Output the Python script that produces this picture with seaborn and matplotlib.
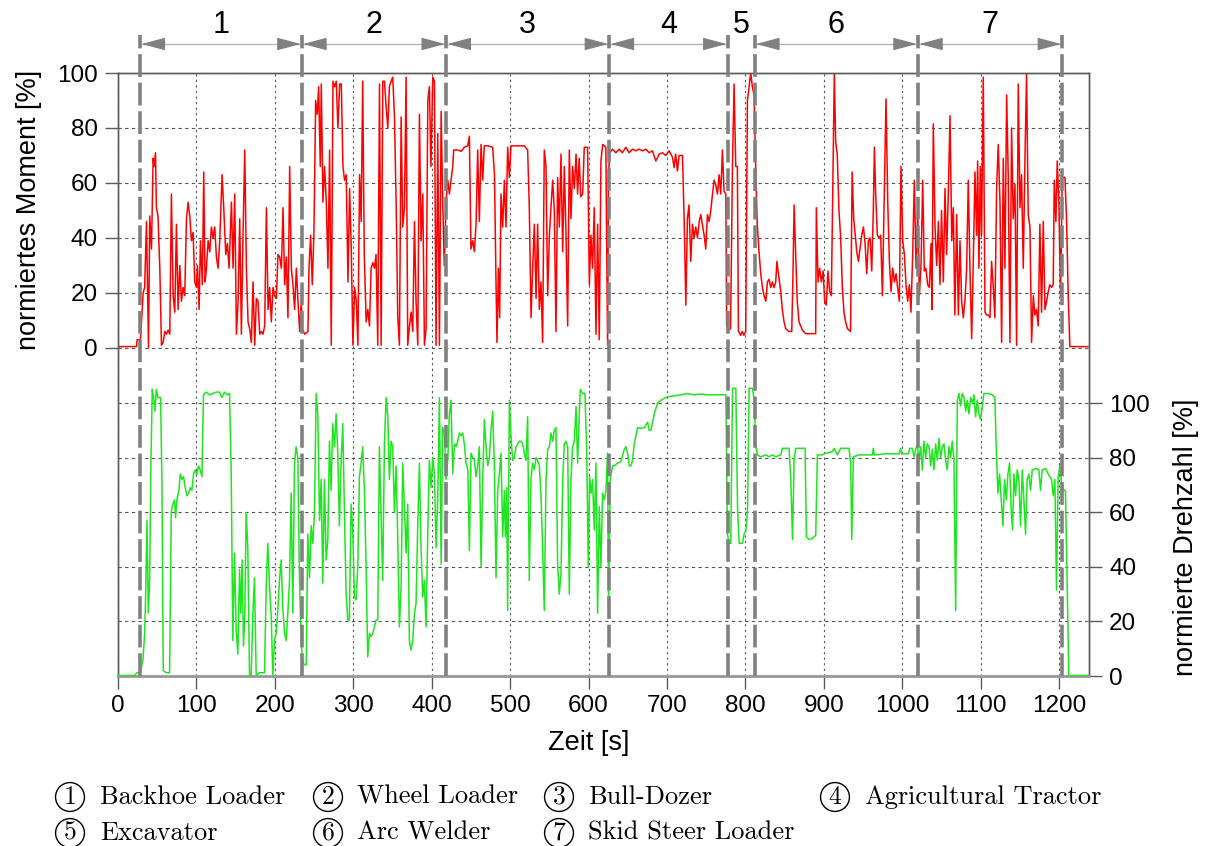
import matplotlib
matplotlib.use("Agg")
import matplotlib.pyplot as plt
import seaborn as sns
from matplotlib.transforms import blended_transform_factory

# ---------------- data ----------------
phase_bounds = [28.5, 234.5, 418.5, 626.5, 777.5, 812, 1020, 1204]
phase_labels = ["1", "2", "3", "4", "5", "6", "7"]
legend_names = ["Backhoe Loader", "Wheel Loader", "Bull-Dozer", "Agricultural Tractor",
                "Excavator", "Arc Welder", "Skid Steer Loader"]
x_ticks = [0, 100, 200, 300, 400, 500, 600, 700, 800, 900, 1000, 1100, 1200]
y_ticks = [0, 20, 40, 60, 80, 100]

torque_t = [
    0, 23.6, 24.4, 28.7, 32, 34, 36.3, 38.9, 40.5, 42.7,
    44.8, 46, 47.8, 49, 51, 53.3, 55.4, 57.5, 59.7, 61.8,
    63.9, 66, 68.1, 70.3, 72.4, 74.5, 76.6, 78.8, 80.9, 83,
    85.1, 87.3, 89.4, 91.5, 93.6, 95.7, 97.9, 100, 101.3, 103.4,
    105.1, 107.6, 109.3, 111, 112.7, 114.9, 117, 119.1, 121.2, 123.3,
    125.5, 127.6, 129.7, 132.7, 134.8, 137.4, 139.5, 141.6, 144.6, 146.7,
    148.8, 151, 153.1, 155.2, 157.3, 159.4, 161.6, 163.7, 165.8, 167.9,
    170, 172.2, 174.3, 176.4, 178.5, 180.7, 182.8, 184.9, 187, 189.2,
    191.3, 193.4, 195.5, 197.6, 199.8, 201.9, 204, 206.1, 208.3, 210.4,
    212.5, 214.6, 216.7, 218.9, 221, 223.1, 225.2, 227.4, 229.5, 231.6,
    233.7, 235, 238, 242.2, 243.5, 245.6, 247.7, 249.8, 252, 254.1,
    255.8, 257.9, 259.2, 261.3, 263.4, 265.6, 267.7, 269.8, 271.9, 274.1,
    276.2, 278.3, 280.4, 282.6, 284.7, 286.8, 288.9, 291, 293.2, 295.3,
    297.4, 299.5, 301.7, 303.8, 305.9, 308, 310, 312, 314, 316.4,
    318.5, 320.6, 322.7, 324.9, 327, 329, 331.2, 333.4, 335.5, 337.6,
    339.7, 341.8, 344, 346, 348.2, 350.3, 352.5, 354.6, 356.7, 358.8,
    361, 363, 365.2, 367.3, 369.4, 371.6, 373.7, 375.8, 378, 380,
    382.2, 384.3, 386.4, 388.6, 390.7, 392.8, 395, 397, 399, 401.3,
    403.4, 405.5, 407.7, 409.8, 412, 414, 416, 418.3, 420.4, 422.5,
    424.6, 426.8, 428, 433, 437.4, 441.6, 445.9, 448, 450, 452.3,
    454.4, 456.5, 458.6, 460.7, 462.9, 465, 467, 471.4, 477.7, 480,
    482, 483.2, 485, 486.6, 488.3, 490.5, 492.6, 494.7, 496.8, 499,
    501, 509.6, 518, 522.3, 524.4, 526.6, 528.7, 530.8, 533, 535,
    537.2, 539.3, 541.4, 543.5, 545.7, 547.8, 550, 552, 554.2, 556.3,
    558.4, 560.5, 562.7, 564.8, 567, 569, 571, 573.3, 575.4, 577.5,
    579.6, 581.8, 584, 586, 588, 590, 592.4, 594.5, 598.7, 601,
    603, 605, 607.2, 609.4, 611.5, 613.6, 615.7, 618, 622, 624.2,
    625.4, 627, 630.5, 634.7, 639, 643, 647.5, 651.7, 656, 660,
    664.5, 668.7, 673, 677.2, 681.4, 685.7, 690, 694.2, 698.4, 702.7,
    707, 709, 711, 713.3, 715.4, 719.7, 721.8, 724, 726, 728,
    730.3, 732.4, 734.5, 736.6, 738.8, 741, 743, 745, 747.3, 749.4,
    751.5, 753.6, 755.8, 758, 760, 762, 764.3, 766.4, 768.5, 770.6,
    772.7, 775, 776, 778, 781, 783.4, 785.5, 787.6, 789.7, 791,
    794, 796, 798, 800.3, 802.5, 804.6, 806.7, 808.8, 811, 813,
    815, 817.3, 819.5, 821.6, 823.7, 826, 828, 830, 832.2, 834.3,
    836.4, 838.6, 840, 842, 845, 847, 849.2, 851.3, 855.5, 859,
    860.6, 862, 864, 866, 868.3, 872.5, 876.8, 889.5, 890.4, 892.5,
    894.6, 896.7, 899, 901, 903, 905.2, 907.4, 909.5, 911.6, 913.3,
    915, 917, 919.2, 921.4, 923.5, 925.6, 927.7, 930, 934, 936,
    938, 939.7, 941.9, 944, 946, 948.2, 950.4, 952.5, 954.6, 956.7,
    958.9, 961, 963, 964.4, 966, 968.2, 970.3, 972.4, 974.6, 976.7,
    979.2, 981.4, 983.5, 985.6, 987.7, 990, 992, 994, 996.2, 998.3,
    1000.5, 1002.6, 1004.7, 1006.8, 1009, 1011, 1013.2, 1015.3, 1017.5, 1019.6,
    1021.7, 1023.8, 1026, 1028, 1030, 1032.3, 1034.4, 1036.6, 1037.8, 1039.5,
    1041.7, 1043.8, 1046, 1048, 1050, 1052.3, 1054.4, 1056.5, 1058.6, 1060.8,
    1063, 1065, 1067, 1069.3, 1071.4, 1073.5, 1075.6, 1077.8, 1080, 1082,
    1084.1, 1086.2, 1088.4, 1090.5, 1092.6, 1094.7, 1096, 1097.7, 1099.4, 1101,
    1103.2, 1105.4, 1107.5, 1109.6, 1111.7, 1113.8, 1116, 1118, 1120.2, 1122.3,
    1124.5, 1126.6, 1128.7, 1130.8, 1133, 1135, 1137.2, 1139.3, 1141.4, 1143.6,
    1145.7, 1147.8, 1150, 1152, 1154.2, 1156.3, 1158.4, 1160.5, 1162.7, 1164.8,
    1167, 1169, 1171, 1173.3, 1175.4, 1177.5, 1179.7, 1181.8, 1184, 1186,
    1188, 1190.3, 1192.4, 1193.7, 1195.8, 1197.5, 1199.6, 1201.7, 1203.9, 1207.3,
    1209.4, 1211.5, 1213.6, 1237,
]
torque_v = [
    0.5, 0.5, 3, 3, 20, 22, 46, 0, 48, 36,
    69, 66, 71, 51, 48, 29, 1, 2, 6, 5,
    6.5, 5, 56, 19, 13, 45, 14, 30, 17, 22,
    19, 47, 53, 48, 39, 42, 24, 22, 30, 14,
    39, 23, 64, 24, 29, 39, 35, 44, 40, 44,
    33, 29, 39, 63, 51, 34, 38, 29, 53, 29,
    56, 5, 17, 47, 5, 41, 72, 29, 9.5, 7,
    2, 24, 1, 18, 17, 5, 6, 5, 8, 51,
    14, 22, 9.5, 22, 19, 18, 34, 33, 29, 51,
    23, 33, 11, 66, 29, 23, 14, 29, 17, 6,
    17, 7, 5, 6, 29, 41, 23, 42, 90, 85,
    95, 66, 96, 53, 66, 53, 29, 72, 1, 97,
    95, 97, 80, 96, 96, 66, 61, 63, 24, 58,
    36, 1, 22, 17, 1, 63, 46, 97, 34, 9.5,
    14, 8, 29, 31, 29, 34, 1, 96, 1, 97,
    97, 88, 80, 95, 97, 98.5, 84, 53, 11, 1,
    84, 44, 51, 98.5, 1, 8, 13, 6, 46, 17,
    1, 85, 39, 56, 1, 7, 90, 95, 66, 98.5,
    97, 1, 78, 1, 86, 53, 30, 53, 61, 56,
    61, 66, 72, 72, 71.5, 73, 73.5, 77, 36, 39,
    35, 45, 72, 46, 74, 61, 73.5, 73.5, 73, 63,
    23, 2, 29, 11, 56, 44, 61, 44, 73, 62,
    73.5, 73.5, 73.5, 72, 51, 11, 29, 45, 18, 45,
    14, 24, 2, 72, 66, 19, 41, 51, 61, 50,
    6, 62, 44, 70.5, 35, 66, 44, 8, 72, 47,
    66, 58, 70.5, 56, 69, 55, 56, 73, 73, 23,
    41, 29, 51, 5, 45, 3, 68, 74, 73, 1,
    63, 71, 72.3, 71, 72.3, 71, 73, 71, 72.3, 71.7,
    72.3, 71.7, 72.3, 71, 71.7, 68, 70.5, 71, 70, 71.7,
    69.3, 65.6, 70.5, 64.4, 70, 70, 47, 15.6, 47, 52,
    31.5, 45, 40, 44, 40, 46, 48.5, 45, 41, 36,
    48.5, 46, 50, 56, 61, 59.5, 56, 63, 56, 72,
    57, 56, 8, 6.5, 7, 66, 96, 66, 66, 6,
    4.6, 6, 4.6, 6, 90, 95, 100, 95, 92, 66,
    45, 35, 27, 22, 19, 17, 24, 25, 22, 24,
    22, 24, 31.5, 27, 20.5, 14, 9.5, 7, 6, 6,
    27, 52, 34, 17, 9.5, 6.5, 5.2, 5.2, 51, 24,
    29, 24, 28, 17, 15.6, 28, 20.5, 19, 63, 100,
    75, 70.5, 50, 40, 22, 13, 9.5, 7, 6, 64,
    47, 42, 35, 31.5, 36, 41, 44, 38, 27, 39,
    40, 28, 50, 73, 56, 41, 40, 41, 19, 51,
    90.6, 53, 31.5, 20.5, 29, 24, 27, 22, 17, 66,
    39, 34, 23, 17, 23, 13, 34, 61, 29, 50,
    19, 30, 61, 28, 29, 23, 22, 38, 14, 81.5,
    44, 30, 46, 23, 50, 24, 58, 34, 56, 84.5,
    39, 51, 12, 48.5, 12, 39, 17, 11, 18, 29,
    61, 29, 3.4, 31.5, 64, 41, 68, 29, 66, 41,
    98.5, 13, 12, 12, 11, 31.5, 22, 11, 58, 74,
    53, 2, 69, 29, 92, 63, 2, 80, 47, 59.5,
    1, 96, 51, 63, 29, 68, 99.8, 48.5, 44, 2,
    19, 12, 14, 8, 45, 13, 46, 14, 17, 20.5,
    23, 22, 23, 61, 46, 68, 53, 19, 62, 62,
    47, 19, 0.5, 0.5,
]

speed_t = [
    0, 21.2, 24.2, 28.4, 31.8, 34, 35.2, 36.9, 38.6, 40.3,
    42, 43.7, 45.4, 47.1, 48.8, 50.9, 54.3, 56, 57.7, 61.5,
    65.8, 67.9, 70, 72.1, 73.4, 75.1, 77.7, 79.4, 81.5, 83.6,
    85.7, 87.9, 90, 92.1, 94.2, 96.4, 98.5, 100.6, 102.7, 104.8,
    107, 109, 112.5, 116.7, 121, 125.2, 129.5, 132.4, 135.8, 139.2,
    142.2, 144.3, 146.4, 148.5, 150.7, 152.8, 155, 156.6, 158.3, 160,
    161.7, 163.4, 165.5, 167.7, 169.8, 172, 174, 176.2, 180.4, 186.8,
    189, 191, 193.2, 195.3, 197.4, 199.5, 201.6, 203.8, 205.9, 208,
    210.2, 212.3, 214.4, 216.5, 218.7, 220.8, 222.9, 225, 227.1, 229.3,
    231.4, 233.5, 235.6, 240, 242, 244.2, 246.3, 248.4, 250.5, 252.6,
    254.7, 257, 259, 261.1, 263.2, 265.4, 267.5, 269.6, 271.7, 273.8,
    276, 278.1, 280.2, 282.3, 284.4, 286.6, 288.7, 290.8, 293, 295,
    297.2, 299.3, 301.4, 303.6, 305.7, 307.8, 310, 312, 314.2, 316.3,
    318.4, 320.6, 322.7, 324.8, 327, 329, 331.2, 333.3, 335.4, 337.5,
    339.7, 341.8, 344, 346, 348.2, 350.3, 352.4, 354.6, 356.7, 358.8,
    361, 363, 365.2, 367.3, 369.4, 371.5, 373.6, 375.8, 378, 380,
    382, 384.3, 386.4, 388.5, 390.6, 392.8, 395, 397, 399.2, 401.3,
    403.4, 405.6, 407.7, 409.8, 412, 414, 416.2, 418.3, 420.4, 422.5,
    424.6, 426.8, 429, 431, 433.1, 435.3, 437.4, 439.5, 441.6, 443.7,
    446, 448, 450.1, 452.2, 454.4, 456.5, 458.6, 460.7, 462.9, 465,
    467.1, 469.2, 471.4, 473.5, 475.6, 477.7, 479.8, 482, 484.1, 486.2,
    488.3, 490.5, 492.6, 493.9, 495.6, 496.8, 499, 501, 503.2, 505.3,
    507.4, 509.6, 511.7, 513.8, 516, 518, 520.2, 522.3, 524.4, 526.5,
    528.7, 530.8, 533, 535, 537.2, 539.3, 541.4, 543.5, 545.7, 547.8,
    550, 552, 554.2, 556.3, 558.4, 560.5, 562.6, 564.8, 567, 569,
    571.1, 573.3, 575.4, 577.5, 579.6, 581.8, 584, 586, 588.1, 589.4,
    592.4, 595.3, 597.5, 599.6, 601.3, 603, 605.1, 607.2, 609.4, 611.5,
    613.6, 615.7, 617.8, 620, 622.1, 624.2, 625.5, 627.6, 630.6, 632.7,
    637, 641.2, 645.4, 647.6, 649.7, 651.8, 654, 656, 658.2, 662.4,
    666.7, 671, 675.2, 677.3, 679.4, 683.7, 688, 692.2, 696.4, 700.7,
    709, 717.6, 726, 734.6, 743, 751.6, 760, 775, 777, 779.2,
    781.3, 783.5, 787.7, 790, 792, 796.2, 798.3, 800.4, 802.6, 804.7,
    809, 811.1, 813.2, 815.3, 819.6, 826, 830, 834.4, 838.6, 845,
    847.1, 855.6, 857.8, 860, 862, 864.1, 876, 877.7, 881.1, 885.3,
    889.6, 891.7, 898.1, 902.3, 910.8, 913, 917.2, 921.4, 932, 934.2,
    935.5, 937.6, 944.8, 961.8, 963, 964.3, 978.8, 995.8, 997.9, 999.2,
    1007.6, 1009.3, 1012.7, 1014.9, 1017, 1019.1, 1021.2, 1023.3, 1025.5, 1027.6,
    1029.7, 1031.8, 1034, 1036.1, 1038.2, 1040.3, 1042.5, 1044.6, 1046.7, 1048.8,
    1051, 1053.1, 1055.2, 1057.3, 1059.4, 1061.6, 1063.7, 1065.8, 1068, 1070.1,
    1072.2, 1074.3, 1076.4, 1078.6, 1080.7, 1082.8, 1085, 1087, 1089.2, 1091.3,
    1093.4, 1095.5, 1097.7, 1099.8, 1102, 1104, 1110.4, 1114.6, 1118, 1119.7,
    1121.8, 1124, 1126.1, 1128.2, 1130.4, 1132.5, 1134.6, 1136.7, 1138.9, 1140.5,
    1142.3, 1144.4, 1146.5, 1148.6, 1150.7, 1152.9, 1155, 1157.1, 1159.2, 1161.3,
    1163.5, 1165.6, 1169.8, 1174.1, 1176.2, 1178.3, 1182.6, 1186.8, 1190.2, 1192.4,
    1194.5, 1196.6, 1198.7, 1200.8, 1203, 1206, 1208, 1212.3, 1237,
]
speed_v = [
    0.2, 0.2, 1.2, 1.2, 6, 15.6, 29, 57, 23, 35,
    78, 105, 102, 97, 105, 102, 102, 72, 2, 1.2,
    1.2, 60, 63, 64.5, 58, 64.5, 68, 74, 72, 73,
    69, 66, 67, 69, 68, 74, 75.5, 74, 77, 75.5,
    73, 103, 104, 103, 103.5, 104, 104, 102, 104, 103,
    103.5, 75.5, 13, 45, 17, 8, 39, 23, 42.5, 11,
    23, 60, 47, 0.2, 0.2, 23, 36, 0.2, 1.2, 1.2,
    33, 48.6, 33, 22, 0.2, 13, 15.6, 24, 35, 42.5,
    25, 15.6, 13, 23, 35, 67, 23, 78, 84, 80,
    35, 13, 4.6, 4, 52, 36, 55, 48.6, 60, 103.5,
    96, 57, 72, 34, 72, 42.5, 50, 86, 68, 92.5,
    84, 96, 81.5, 55, 78, 92.5, 60, 30, 20.5, 20.5,
    63, 53.5, 29, 28, 40, 73, 78, 84, 68, 40,
    7, 15.6, 14.4, 15.6, 18, 20.5, 20.5, 84, 60, 35,
    85, 102, 95, 72, 86, 84, 60, 77, 50, 18,
    33, 78, 62, 45, 63, 13, 9.5, 13, 23, 26.6,
    53.5, 78, 47, 29, 35, 18, 53.5, 79, 69, 80,
    74, 47, 66, 102, 41, 91, 89, 72, 79, 96,
    101, 74, 85, 84, 86, 89, 88, 89, 85, 78,
    75.5, 46, 81.6, 80, 79, 73, 77, 84, 40, 72,
    94, 84, 77, 80, 90, 97, 78, 36, 68, 74,
    81.6, 51, 68, 51, 69, 24, 101, 88, 79, 80,
    84, 85, 86, 86, 85, 81.6, 79, 95, 35, 72,
    78, 75.5, 80, 79, 77, 66, 47, 24, 72, 83,
    84, 89, 86, 90, 91, 41, 30, 37.6, 72, 85,
    86, 84, 30, 72, 84, 86, 98.7, 78, 96, 105,
    103.5, 103.5, 84, 40, 73, 67, 72, 53.5, 78, 23,
    62, 40, 67, 64.5, 68, 81.6, 24, 72, 77, 77,
    78, 78.5, 83, 84, 81.6, 77, 77, 79, 85, 91,
    90.7, 91, 93, 90, 90, 96, 100, 101, 101.7, 102.3,
    102.6, 103, 103.5, 103, 103.3, 103, 103, 103, 52, 48.6,
    48.6, 105.4, 105.4, 60, 48.6, 48.6, 52, 53, 60, 105.4,
    105.4, 101, 84, 81, 80.3, 81, 80.3, 81, 80.3, 81,
    83.4, 83.4, 72, 50, 79, 83.4, 83.4, 51, 50, 50.4,
    51.6, 81, 81, 81.6, 82.2, 83.4, 81, 83.4, 83.4, 78,
    50, 80.3, 81, 81, 83.4, 81, 81.4, 81.4, 83.4, 81.4,
    81.4, 83.4, 83.4, 80.3, 83, 85, 79, 84, 75.5, 86,
    80, 85, 84, 77, 83, 75.5, 85, 79, 87, 80,
    84, 85, 79, 75.5, 84, 80, 86, 79, 24, 101,
    103.5, 99, 103.5, 102, 97, 101, 96, 102, 100, 103,
    95, 101, 96, 94, 98.7, 103.5, 103.5, 103, 102, 84,
    67, 74, 64.5, 55, 72, 64.5, 74, 78, 60, 53.5,
    74, 66, 75.5, 72, 55, 75.5, 64.5, 52, 72, 74,
    68, 75.5, 76, 75.5, 68, 75.5, 76, 73.6, 72, 66,
    72, 31.5, 73, 77, 70.6, 68, 68, 0.2, 0.2,
]

# ---------------- style ----------------
sns.set_theme(style="white")
plt.rcParams["font.family"] = ["Liberation Sans", "DejaVu Sans"]
plt.rcParams["text.color"] = "black"
plt.rcParams["axes.labelcolor"] = "black"
plt.rcParams["xtick.labelcolor"] = "black"
plt.rcParams["ytick.labelcolor"] = "black"

W, H = 1205, 846
fig = plt.figure(figsize=(W / 100, H / 100), dpi=100)
ax = fig.add_axes([118 / W, 1 - 676 / H, 971 / W, 603 / H])
ax2 = ax.twinx()

grid_col = "#555555"
spine_col = "#5a5a5a"

sns.lineplot(x=torque_t, y=torque_v, ax=ax, color="#ff0000", linewidth=1.1,
             sort=False, estimator=None, zorder=3)
sns.lineplot(x=speed_t, y=speed_v, ax=ax2, color="#1ee61e", linewidth=1.1,
             sort=False, estimator=None, zorder=3)

ax.set_xlim(0, 1238)
ax.set_ylim(-119.3, 100)
ax2.set_ylim(0, 220.9)
ax.set_xticks(x_ticks)
ax.set_yticks(y_ticks)
ax2.set_yticks(y_ticks)

# grids
ax.set_axisbelow(True)
ax2.set_axisbelow(True)
ax.yaxis.grid(True, color=grid_col, linestyle=(0, (3, 3)), linewidth=0.8)
ax.xaxis.grid(True, color=grid_col, linestyle=(0, (2, 3)), linewidth=0.8)
ax2.xaxis.grid(False)
ax2.yaxis.grid(True, color=grid_col, linestyle=(0, (3, 3)), linewidth=0.8)

for a in (ax, ax2):
    for s in a.spines.values():
        s.set_visible(True)
        s.set_color(spine_col)
        s.set_linewidth(1.0)
    a.spines["bottom"].set_color("#9a9a9a")
    a.spines["bottom"].set_linewidth(1.8)

ax.tick_params(axis="both", direction="out", length=9.5, width=1, color=spine_col,
               labelsize=17.5, pad=4, left=True, bottom=True, labelcolor="black")
ax.tick_params(axis="y", pad=5)
ax2.tick_params(axis="y", direction="out", length=9.5, width=1, color=spine_col,
                labelsize=17.5, pad=5, right=True, labelcolor="black")

ax.set_xlabel("Zeit [s]", fontsize=19.5, color="black")
ax.xaxis.set_label_coords(0.485, -0.09)
ax.set_ylabel("normiertes Moment [%]", fontsize=19.5, color="black")
ax.yaxis.set_label_coords(-0.078, 0.773)
ax2.set_ylabel("normierte Drehzahl [%]", fontsize=19.5, color="black")
ax2.yaxis.set_label_coords(1.087, 0.2305)

# phase boundaries, arrows, labels
trans = blended_transform_factory(ax2.transData, ax2.transAxes)
for b in phase_bounds:
    ax2.plot([b, b], [0, 1.063], transform=trans, color="#808080", linewidth=2.6,
             linestyle=(0, (6.3, 1.6)), clip_on=False, zorder=6, solid_capstyle="butt",
             dash_capstyle="butt")

yy = (676 - 44) / 603
head_len = 27
for i, lab in enumerate(phase_labels):
    b1, b2 = phase_bounds[i], phase_bounds[i + 1]
    ax2.text((b1 + b2) / 2, (676 - 25) / 603, lab, transform=trans, ha="center",
             va="center", fontsize=22, color="black", clip_on=False)
    if b2 - b1 < 2.5 * head_len:
        continue
    ax2.plot([b1, b2], [yy, yy], transform=trans, color="#b4b4b4", linewidth=1.0,
             clip_on=False, zorder=5)
    for tip, tail in ((b1 + 1.5, b1 + head_len), (b2 - 1.5, b2 - head_len)):
        ax2.annotate("", xy=(tip, yy), xytext=(tail, yy), xycoords=trans, textcoords=trans,
                     arrowprops=dict(arrowstyle="-|>,head_length=0.75,head_width=0.2",
                                     color="#808080", lw=0.8, shrinkA=0, shrinkB=0,
                                     mutation_scale=20),
                     annotation_clip=False, zorder=6)

# bottom legend (circled numbers)
serif = ["cmr10", "DejaVu Serif"]
circ_x = [70, 328, 559, 835, 70, 328, 559]
text_x = [100, 357, 588, 865, 100, 357, 588]
row_y = [797, 797, 797, 797, 833, 833, 833]
for lab, name, cx, tx, ry in zip(phase_labels, legend_names, circ_x, text_x, row_y):
    fig.text(cx / W, 1 - ry / H, lab, fontfamily=serif, fontsize=18.5, ha="center",
             va="center",
             bbox=dict(boxstyle="circle,pad=0.1", fc="none", ec="black", lw=1.0))
    fig.text(tx / W, 1 - ry / H, name, fontfamily=serif, fontsize=19, ha="left",
             va="center", color="black")

fig.savefig("out.png", dpi=100)
